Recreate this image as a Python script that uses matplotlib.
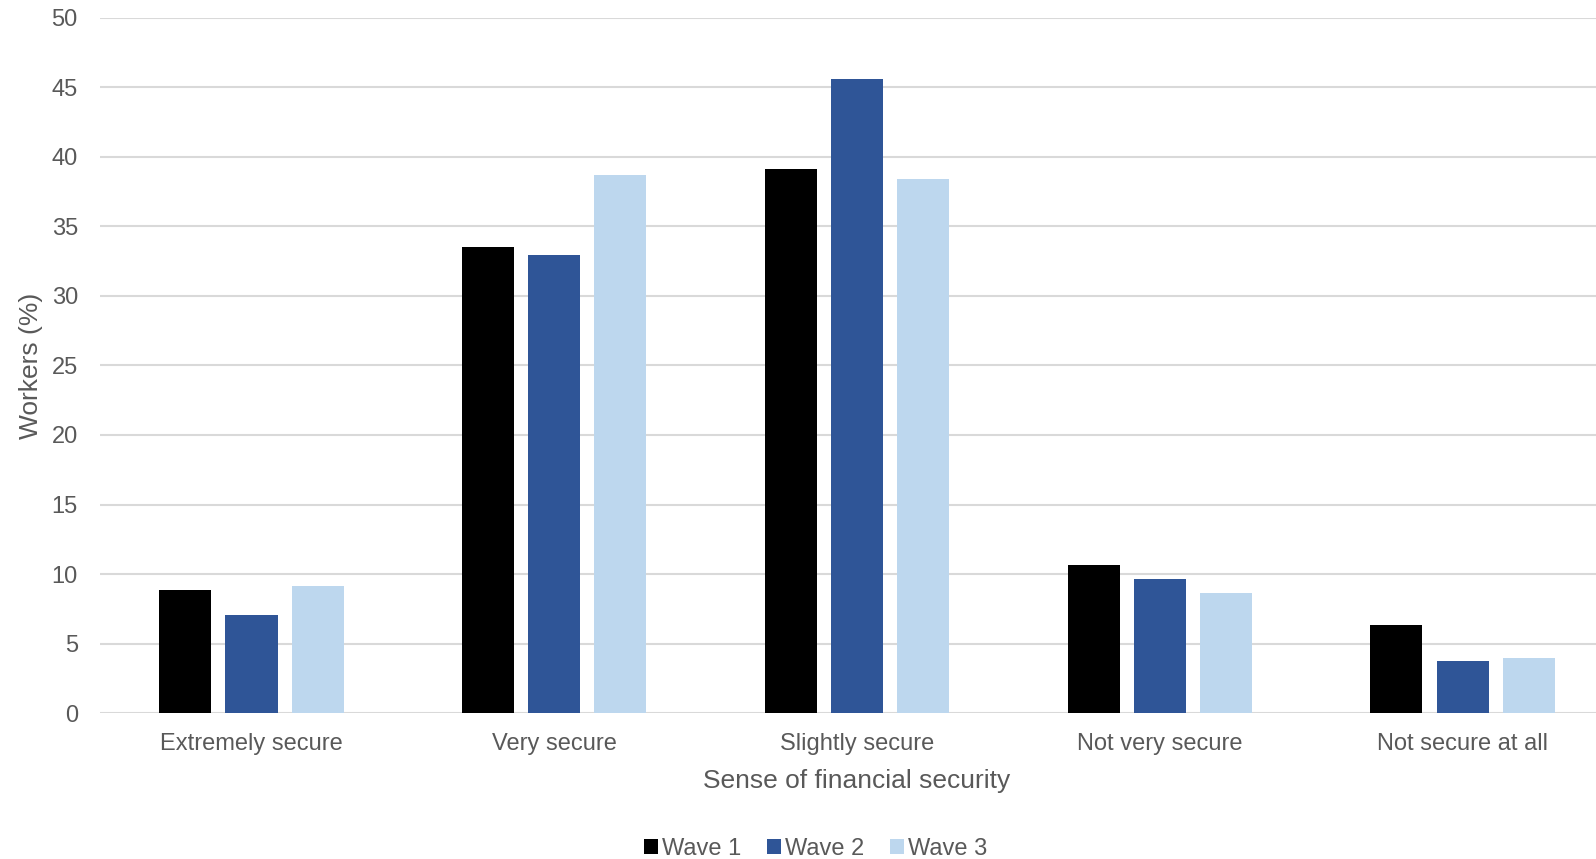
import numpy as np
import matplotlib
matplotlib.use("Agg")
import matplotlib.pyplot as plt

plt.rcParams['font.family'] = ['Liberation Sans', 'DejaVu Sans']

categories = ["Extremely secure", "Very secure", "Slightly secure",
              "Not very secure", "Not secure at all"]
wave1 = [8.86, 33.5, 39.1, 10.65, 6.34]
wave2 = [7.06, 32.9, 45.6, 9.67, 3.78]
wave3 = [9.17, 38.7, 38.4, 8.66, 3.97]
series_names = ["Wave 1", "Wave 2", "Wave 3"]
colors = ["#000000", "#2F5597", "#BDD7EE"]
y_ticks = list(range(0, 55, 5))

text_color = "#595959"

fig = plt.figure(figsize=(15.96, 8.59), dpi=100)
ax = fig.add_axes([0.0627, 0.1696, 0.9486, 0.81])

x = np.arange(len(categories))
width = 0.172
step = 0.2186
for i, (vals, name, c) in enumerate(zip([wave1, wave2, wave3], series_names, colors)):
    ax.bar(x + (i - 1) * step, vals, width, color=c, label=name, zorder=3)

ax.set_xlim(-0.5, len(categories) - 0.5)
ax.set_ylim(0, 50)
ax.set_yticks(y_ticks)
ax.set_xticks(x)
ax.set_xticklabels(categories)
ax.tick_params(axis='both', length=0, colors=text_color, labelsize=17)
ax.tick_params(axis='x', pad=14.5)
ax.tick_params(axis='y', pad=16)
ax.grid(axis='y', color="#D9D9D9", linewidth=1.5, zorder=0)
for s in ax.spines.values():
    s.set_visible(False)

ax.set_xlabel("Sense of financial security", fontsize=19, color=text_color, labelpad=10)
ax.set_ylabel("Workers (%)", fontsize=19, color=text_color, labelpad=6)

leg = fig.legend(loc='center', bbox_to_anchor=(0.511, 0.012), ncol=3, frameon=False,
                 fontsize=17, handlelength=0.6, handleheight=0.6,
                 handletextpad=0.15, columnspacing=1.1)
for t in leg.get_texts():
    t.set_color(text_color)

fig.savefig("out.png", dpi=100)
